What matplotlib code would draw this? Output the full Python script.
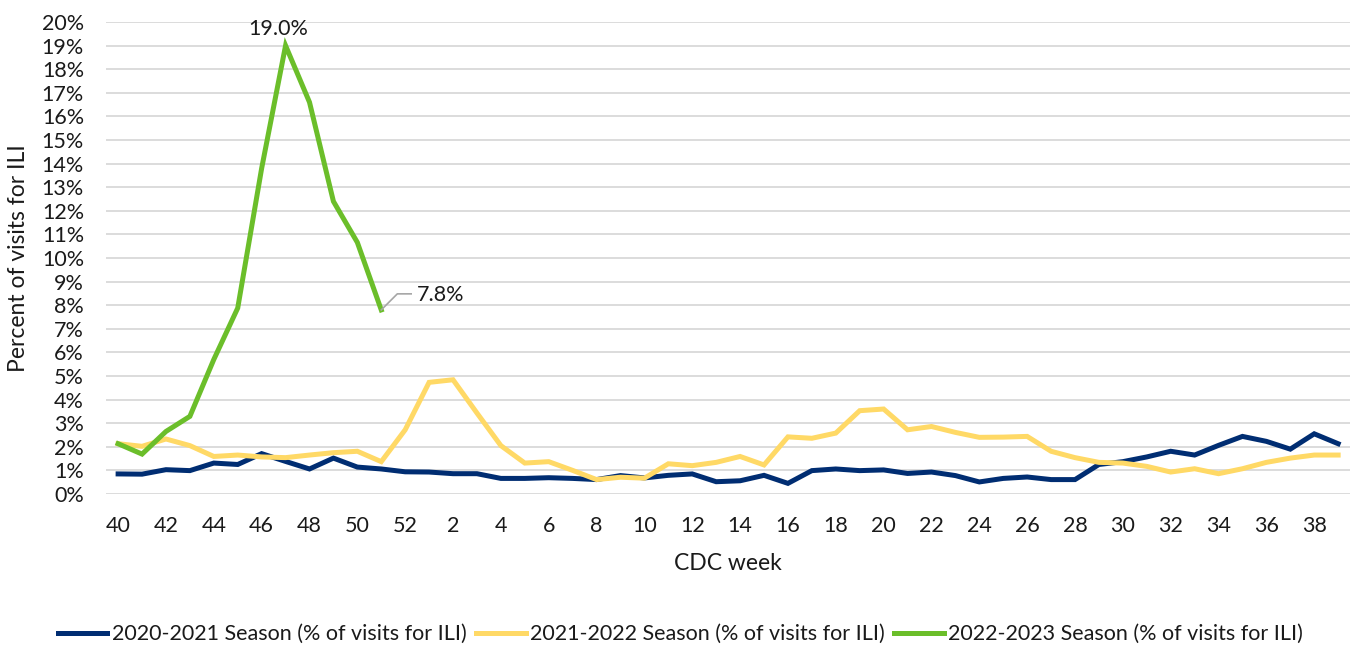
import matplotlib
matplotlib.use("Agg")
import matplotlib.pyplot as plt
import numpy as np

plt.rcParams['font.family'] = ['Lato', 'DejaVu Sans']

# CDC weeks, season runs week 40 through week 39
weeks = list(range(40, 53)) + list(range(1, 40))

s2020 = [0.85, 0.84, 1.03, 0.99, 1.31, 1.25, 1.71, 1.38, 1.06, 1.52, 1.14, 1.06, 0.94,
         0.93, 0.86, 0.86, 0.66, 0.66, 0.69, 0.66, 0.61, 0.78, 0.68, 0.79, 0.85, 0.52,
         0.56, 0.79, 0.45, 0.99, 1.06, 0.99, 1.02, 0.87, 0.93, 0.78, 0.51, 0.66, 0.72,
         0.61, 0.61, 1.25, 1.37, 1.57, 1.81, 1.65, 2.06, 2.44, 2.23, 1.90, 2.55, 2.13]

s2021 = [2.13, 2.02, 2.33, 2.05, 1.59, 1.65, 1.57, 1.54, 1.65, 1.75, 1.81, 1.37, 2.72,
         4.73, 4.84, 3.43, 2.05, 1.31, 1.37, 1.00, 0.61, 0.71, 0.67, 1.28, 1.20, 1.34,
         1.59, 1.23, 2.42, 2.36, 2.58, 3.53, 3.60, 2.72, 2.86, 2.61, 2.40, 2.41, 2.44,
         1.81, 1.54, 1.34, 1.31, 1.17, 0.93, 1.07, 0.86, 1.07, 1.34, 1.52, 1.65, 1.65]

s2022 = [2.13, 1.69, 2.65, 3.29, 5.70, 7.88, 13.8, 19.0, 16.6, 12.4, 10.66, 7.8]

labels = ['2020-2021 Season (% of visits for ILI)',
          '2021-2022 Season (% of visits for ILI)',
          '2022-2023 Season (% of visits for ILI)']
colors = ['#002D72', '#FFD966', '#6BBE2A']

fig = plt.figure(figsize=(13.61, 6.47), dpi=100)
ax = fig.add_axes([0.078, 0.2365, 0.914, 0.7295])

x = np.arange(len(weeks))
ax.plot(x, s2020, color=colors[0], lw=3.6, label=labels[0], solid_joinstyle='miter')
ax.plot(x, s2021, color=colors[1], lw=3.6, label=labels[1], solid_joinstyle='miter')
x22 = np.arange(len(s2022))
ax.plot(x22, s2022, color=colors[2], lw=3.6, label=labels[2], solid_joinstyle='miter')

ax.set_xlim(-0.5, len(weeks) - 0.5)
ax.set_ylim(0, 20)
ax.set_yticks(np.arange(0, 21, 1))
ax.set_yticklabels([f'{v}%' for v in range(0, 21)])
tick_idx = [i for i, w in enumerate(weeks) if w % 2 == 0]
ax.set_xticks(tick_idx)
ax.set_xticklabels([str(weeks[i]) for i in tick_idx])
ax.tick_params(axis='both', length=0, labelsize=15.5, colors='#1a1a1a')
ax.tick_params(axis='x', pad=16)
ax.tick_params(axis='y', pad=16)

ax.grid(axis='y', color='#d9d9d9', lw=1.3)
ax.set_axisbelow(True)
for sp in ax.spines.values():
    sp.set_visible(False)

ax.set_xlabel('CDC week', fontsize=16.5, color='#1a1a1a', labelpad=12)
ax.set_ylabel('Percent of visits for ILI', fontsize=16.5, color='#1a1a1a', labelpad=9)

# data labels
ipk = int(np.argmax(s2022))
ax.annotate(f'{s2022[ipk]:.1f}%', (ipk, s2022[ipk]), xytext=(-5, 5),
            textcoords='offset points', ha='center', va='bottom', fontsize=15.5,
            color='#1a1a1a')
il = len(s2022) - 1
ax.plot([il, il + 0.67, il + 1.25], [s2022[il], s2022[il] + 0.68, s2022[il] + 0.68],
        color='#a6a6a6', lw=1.2)
ax.text(il + 1.5, s2022[il] + 0.63, f'{s2022[il]:.1f}%', ha='left', va='center',
        fontsize=15.5, color='#1a1a1a')

fig.legend(loc='center', bbox_to_anchor=(0.5, 0.02), ncol=3, frameon=False,
           fontsize=15.5, handlelength=2.3, handletextpad=0.2, columnspacing=0.45,
           labelcolor='#1a1a1a')

fig.savefig('out.png', dpi=100)
